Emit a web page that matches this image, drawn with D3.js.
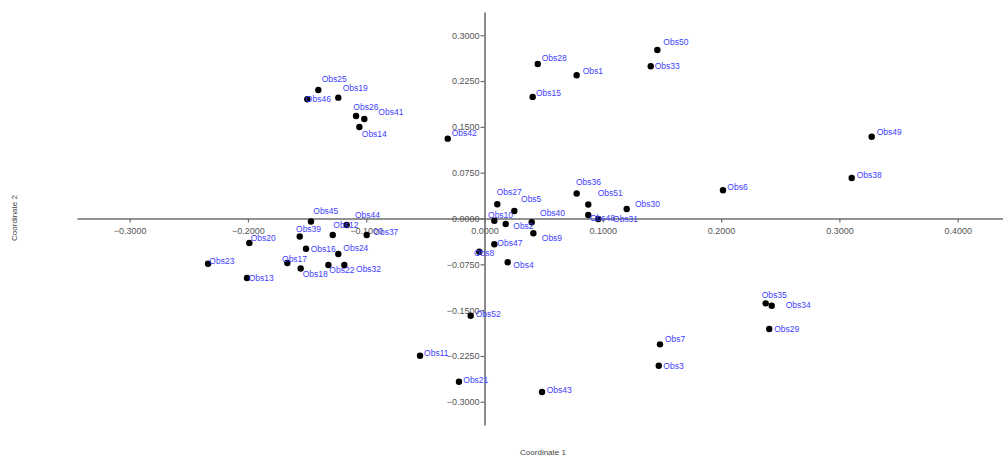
<!DOCTYPE html>
<html>
<head>
<meta charset="utf-8">
<script src="https://cdn.jsdelivr.net/npm/d3@7"></script>
<style>
  body { margin: 0; background: #fff; }
  svg { display: block; font-family: "Liberation Sans", Arial, sans-serif; }
</style>
</head>
<body>
<svg id="chart" width="1003" height="456"></svg>
<script>
const names = [
  "Obs1", "Obs2", "Obs3", "Obs4", "Obs5", "Obs6", "Obs7", "Obs8", "Obs9", "Obs10",
  "Obs11", "Obs12", "Obs13", "Obs14", "Obs15", "Obs16", "Obs17", "Obs18", "Obs19", "Obs20",
  "Obs21", "Obs22", "Obs23", "Obs24", "Obs25", "Obs26", "Obs27", "Obs28", "Obs29", "Obs30",
  "Obs31", "Obs32", "Obs33", "Obs34", "Obs35", "Obs36", "Obs37", "Obs38", "Obs39", "Obs40",
  "Obs41", "Obs42", "Obs43", "Obs44", "Obs45", "Obs46", "Obs47", "Obs48", "Obs49", "Obs50",
  "Obs51", "Obs52"
];

// Coordinate 1 (x)
const coord1 = [
  0.0779, 0.0179, 0.1473, 0.0196, 0.0252, 0.2016, 0.1483, -0.0044, 0.0413, 0.0083,
  -0.0545, -0.1283, -0.2008, -0.1058, 0.0407, -0.1509, -0.1667, -0.1554, -0.1236, -0.1988,
  -0.0216, -0.1320, -0.2337, -0.1236, -0.1405, -0.1086, 0.0108, 0.0450, 0.2407, 0.1202,
  0.0962, -0.1185, 0.1405, 0.2428, 0.2377, 0.0779, -0.0996, 0.3104, -0.1562, 0.0399,
  -0.1016, -0.0311, 0.0486, -0.1165, -0.1467, -0.1498, 0.0083, 0.0877, 0.3273, 0.1461,
  0.0877, -0.0117
];

// Coordinate 2 (y)
const coord2 = [
  0.2345, -0.0090, -0.2410, -0.0717, 0.0123, 0.0462, -0.2060, -0.0544, -0.0242, -0.0036,
  -0.2247, -0.0270, -0.0974, 0.1498, 0.1990, -0.0495, -0.0729, -0.0819, 0.1978, -0.0401,
  -0.2672, -0.0761, -0.0740, -0.0581, 0.2104, 0.1678, 0.0233, 0.2530, -0.1809, 0.0156,
  -0.0008, -0.0761, 0.2492, -0.1428, -0.1389, 0.0409, -0.0270, 0.0663, -0.0295, -0.0062,
  0.1629, 0.1307, -0.2841, -0.0106, -0.0049, 0.1952, -0.0422, 0.0057, 0.1339, 0.2759,
  0.0229, -0.1592
];

const xTicks = [-0.3, -0.2, -0.1, 0, 0.1, 0.2, 0.3, 0.4];
const yTicks = [-0.3, -0.225, -0.15, -0.075, 0, 0.075, 0.15, 0.225, 0.3];

// label placement, pixels from the point (left edge, text middle)
const labelNudge = {
  Obs1: [6, -4.6], Obs2: [7.6, 2], Obs3: [4.6, 0], Obs4: [5.6, 2.7], Obs5: [6.7, -11.7],
  Obs6: [4.3, -3.6], Obs7: [5, -5.3], Obs8: [-5.3, 1], Obs9: [8.4, 5], Obs10: [-6.3, -5.7],
  Obs11: [4, -2.4], Obs12: [0.6, -10], Obs13: [1.7, 0], Obs14: [2.4, 7.3], Obs15: [3.3, -4.3],
  Obs16: [4.7, 0], Obs17: [-5.3, -3.7], Obs18: [2, 5.5], Obs19: [4.4, -9.4], Obs20: [1.4, -5.3],
  Obs21: [4.3, -1.7], Obs22: [1, 5], Obs23: [1.3, -3], Obs24: [5, -6.3], Obs25: [3.4, -10.7],
  Obs26: [-2.7, -8.7], Obs27: [-0.6, -12.6], Obs28: [4, -6.3], Obs29: [5, 0], Obs30: [8.3, -4.7],
  Obs31: [14.7, 0.3], Obs32: [11.7, 4.3], Obs33: [4, 0], Obs34: [14, -0.7], Obs35: [-4, -8.3],
  Obs36: [-0.7, -11.2], Obs37: [6.6, -2.7], Obs38: [5, -3], Obs39: [-3.7, -7.7], Obs40: [8.3, -9.6],
  Obs41: [14, -7.3], Obs42: [4, -5.4], Obs43: [4.7, -2], Obs44: [8.3, -10], Obs45: [2.3, -10.5],
  Obs46: [-1.5, 0], Obs47: [3, -1.6], Obs48: [1.7, 3.3], Obs49: [5, -4.4], Obs50: [6, -7.7],
  Obs51: [9.4, -11.2], Obs52: [5, -1.7]
};

var svg = d3.select("#chart");

var x = d3.scaleLinear().domain([-0.3445, 0.4383]).range([77, 1003]);
var y = d3.scaleLinear().domain([-0.338, 0.338]).range([425, 12]);
var fmt = d3.format(".4f");

// x axis through y = 0
var gx = svg.append("g")
  .attr("transform", "translate(0," + y(0) + ")")
  .call(d3.axisBottom(x).tickValues(xTicks).tickFormat(fmt).tickSize(4).tickSizeOuter(0).tickPadding(5));

// y axis through x = 0
var gy = svg.append("g")
  .attr("transform", "translate(" + x(0) + ",0)")
  .call(d3.axisLeft(y).tickValues(yTicks).tickFormat(fmt).tickSize(4).tickSizeOuter(0).tickPadding(1));

[gx, gy].forEach(function(g) {
  g.select(".domain").attr("stroke", "#6e6e6e").attr("stroke-width", 1.6);
  g.selectAll(".tick line").attr("stroke", "#6e6e6e").attr("stroke-width", 1.2);
  g.selectAll(".tick text").attr("fill", "#555").style("font-size", "9px")
    .style("font-family", "'Liberation Sans', Arial, sans-serif");
});

// axis titles
svg.append("text")
  .text("Coordinate 1")
  .attr("x", 543).attr("y", 455)
  .attr("text-anchor", "middle")
  .style("font-size", "8px").attr("fill", "#444");

svg.append("text")
  .text("Coordinate 2")
  .attr("transform", "translate(17,218) rotate(-90)")
  .attr("text-anchor", "middle")
  .style("font-size", "8px").attr("fill", "#444");

var pts = names.map(function(n, i) { return { name: n, c1: coord1[i], c2: coord2[i] }; });

svg.append("g").selectAll("circle")
  .data(pts).join("circle")
  .attr("cx", d => x(d.c1))
  .attr("cy", d => y(d.c2))
  .attr("r", 3.2)
  .attr("fill", "#000");

svg.append("g").selectAll("text")
  .data(pts).join("text")
  .text(d => d.name)
  .attr("x", d => x(d.c1) + (labelNudge[d.name] || [4.5, -2])[0])
  .attr("y", d => y(d.c2) + (labelNudge[d.name] || [4.5, -2])[1])
  .attr("dominant-baseline", "central")
  .style("font-size", "8.5px")
  .attr("fill", "#4040ff");
</script>
</body>
</html>
